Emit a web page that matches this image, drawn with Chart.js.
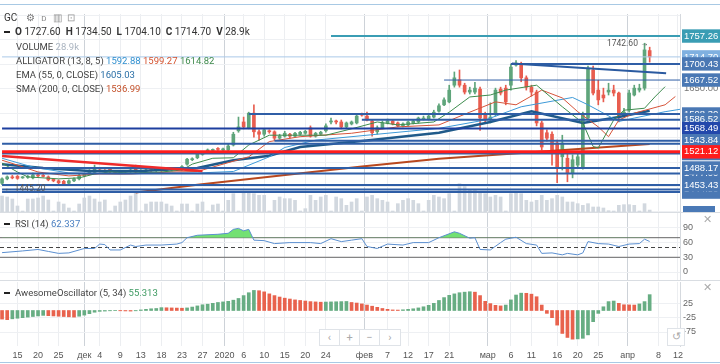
<!doctype html>
<html lang="ru">
<head>
<meta charset="utf-8">
<meta name="viewport" content="width=device-width, initial-scale=1">
<title>GC daily</title>
<style>
  * { margin: 0; padding: 0; box-sizing: border-box; }
  body { width: 720px; height: 364px; overflow: hidden; background: #fff; font-family: Roboto, "Noto Sans", sans-serif; }
  .stage { position: relative; width: 720px; height: 364px; }
  .stage canvas { position: absolute; left: 0; }
  #mainChart { top: 14px; }
  #rsiChart { top: 213px; }
  #aoChart { top: 282px; }
  .rule { position: absolute; left: 0; width: 720px; height: 1px; }
  .lbl { position: absolute; white-space: nowrap; font-size: 10px; line-height: 12px; color: #333; z-index: 5; }
  .ind { font-size: 9.5px; color: #444; }
  .lbl b { font-weight: 700; }
  .dash { display: inline-block; width: 6px; height: 2px; background: #222; vertical-align: middle; margin-right: 5px; }
  .mini { position: absolute; font-size: 8.5px; color: #555; white-space: nowrap; z-index: 5; }
  .close { position: absolute; left: 703px; font-size: 11px; color: #aaa; z-index: 5; }
  .nav { position: absolute; left: 319px; top: 329px; height: 17px; display: flex; border: 1px solid #dfe3e8; background: #fff; z-index: 5; }
  .nav span { width: 20px; text-align: center; font-size: 11px; line-height: 15px; color: #aaa; border-right: 1px solid #dfe3e8; }
  .nav span:last-child { border-right: none; }
  .reset { position: absolute; left: 667px; top: 328px; width: 18px; height: 18px; border: 1px solid #dfe3e8; background: #fff; font-size: 11px; line-height: 16px; text-align: center; color: #aaa; z-index: 5; }
</style>
</head>
<body>
<div class="stage">
  <div class="rule" style="top:4px;background:#a8c9e4"></div>
  <canvas id="mainChart" width="720" height="198"></canvas>
  <div class="rule" style="top:212px;background:#d9dde2"></div>
  <canvas id="rsiChart" width="720" height="67"></canvas>
  <div class="rule" style="top:280px;background:#d9dde2"></div>
  <canvas id="aoChart" width="720" height="82"></canvas>
  <div class="rule" style="top:362px;background:#a8c9e4"></div>

  <div class="lbl" style="left:4px;top:12px">GC <span style="color:#777;margin-left:6px">⚙</span> <span style="color:#888;font-size:8px;margin-left:4px">D</span> <span style="color:#999;margin-left:4px">▥</span> <span style="color:#999;margin-left:2px">⊡</span></div>
  <div class="lbl" style="left:4px;top:26px"><span class="dash"></span><b>O</b> 1727.60 &nbsp;<b>H</b> 1734.50 &nbsp;<b>L</b> 1704.10 &nbsp;<b>C</b> 1714.70 &nbsp;<b>V</b> 28.9k</div>
  <div class="lbl ind" style="left:16px;top:41px">VOLUME <span style="color:#aab4c0">28.9k</span></div>
  <div class="lbl ind" style="left:16px;top:55px">ALLIGATOR (13, 8, 5) <span style="color:#2f8fcf">1592.88</span> <span style="color:#d4532f">1599.27</span> <span style="color:#3e8a4c">1614.82</span></div>
  <div class="lbl ind" style="left:16px;top:69px">EMA (55, 0, CLOSE) <span style="color:#2a6fa6">1605.03</span></div>
  <div class="lbl ind" style="left:16px;top:83px">SMA (200, 0, CLOSE) <span style="color:#c4512a">1536.99</span></div>

  <div class="mini" style="left:607px;top:38px">1742.60 →</div>
  <div class="mini" style="left:4px;top:183px">← 1445.20</div>
  <div style="position:absolute;left:683px;top:206px;width:32px;height:6px;background:#4a79b6;z-index:5"></div>

  <div class="lbl ind" style="left:4px;top:218px"><span class="dash"></span>RSI (14) <span style="color:#4a7fc0">62.337</span></div>
  <div class="close" style="top:213px">✕</div>
  <div class="lbl ind" style="left:4px;top:287px"><span class="dash"></span>AwesomeOscillator (5, 34) <span style="color:#3e9a62">55.313</span></div>
  <div class="close" style="top:281px">✕</div>
  <div class="nav"><span>‹</span><span>+</span><span>−</span><span>›</span></div>
  <div class="reset">↺</div>
</div>

<script src="https://cdn.jsdelivr.net/npm/chart.js"></script>
<script>
// ---- data (bar index 0 = mid Nov 2019, 126 = 7 Apr 2020) ----
const opens = [1457,1466,1470,1471,1468,1469,1468,1474,1473,1470, 1465,1462,1461,1457,1462,1466,1472,1478,1479,1484,
  1483,1486,1482,1479,1480,1481,1490,1480,1482,1485, 1483,1485,1483,1484,1485,1485,1496,1505,1509,1516,
  1523,1524,1528,1525,1525,1535,1564,1582,1570,1600, 1562,1557,1564,1562,1549,1553,1557,1553,1557,1559,
  1570,1553,1557,1564,1582,1584,1582,1572,1578,1580, 1598,1594,1584,1562,1570,1580,1584,1580,1574,1576,
  1580,1582,1588,1588,1592,1604,1617,1623,1657,1668, 1657,1643,1643,1649,1596,1588,1598,1649,1651,1657,
  1698,1700,1672,1653,1643,1580,1560,1557,1539,1511, 1508,1478,1494,1490,1590,1688,1647,1637,1643,1647,
  1641,1596,1606,1637,1647,1651,1727.6];
const highs = [1468,1472,1473,1473,1471,1473,1478,1476,1475,1472, 1467,1464,1463,1464,1468,1475,1477,1485,1494,1486,
  1485,1489,1483,1481,1483,1486,1494,1485,1486,1487, 1487,1487,1487,1488,1488,1493,1508,1509,1521,1519,
  1527,1527,1530,1529,1537,1561,1592,1592,1602,1617, 1566,1569,1566,1564,1557,1563,1559,1561,1563,1565,
  1574,1561,1563,1578,1590,1586,1586,1582,1584,1598, 1600,1602,1586,1574,1584,1588,1586,1582,1580,1584,
  1586,1592,1594,1596,1606,1619,1631,1657,1684,1688, 1661,1653,1663,1653,1602,1621,1651,1653,1657,1700,
  1707,1704,1676,1657,1647,1584,1566,1562,1545,1555, 1521,1515,1519,1602,1696,1696,1667,1651,1661,1657,
  1643,1610,1647,1657,1659,1742.6,1734.5];
const lows = [1454,1464,1466,1465,1467,1467,1466,1470,1470,1462, 1460,1456,1454,1455,1460,1464,1470,1476,1477,1480,
  1479,1478,1477,1477,1478,1479,1478,1478,1480,1481, 1481,1481,1481,1482,1483,1483,1494,1503,1507,1514,
  1521,1522,1524,1523,1521,1533,1561,1568,1568,1551, 1545,1553,1559,1545,1547,1551,1549,1551,1555,1557,
  1551,1551,1555,1561,1578,1578,1568,1570,1576,1578, 1594,1584,1553,1557,1568,1578,1576,1572,1572,1574,
  1578,1580,1586,1586,1590,1602,1615,1621,1653,1653, 1639,1639,1639,1565,1582,1580,1594,1637,1617,1647,
  1696,1664,1647,1635,1574,1525,1543,1494,1458,1484, 1460,1468,1488,1486,1586,1637,1617,1623,1637,1635,
  1582,1592,1602,1635,1643,1647,1704.1];
const closes = [1466,1470,1468,1467,1470,1471,1474,1472,1471,1464, 1462,1458,1456,1462,1466,1473,1475,1483,1488,1482,
  1481,1482,1479,1481,1482,1484,1480,1483,1484,1483, 1485,1483,1485,1486,1486,1491,1506,1507,1519,1517,
  1525,1525,1526,1527,1533,1557,1572,1572,1600,1562, 1557,1566,1562,1549,1553,1559,1553,1559,1561,1563,
  1553,1559,1561,1574,1584,1582,1572,1580,1582,1594, 1596,1586,1560,1570,1580,1584,1578,1574,1578,1582,
  1584,1590,1590,1594,1602,1615,1627,1647,1672,1657, 1643,1647,1651,1590,1586,1592,1647,1641,1623,1694,
  1702,1672,1653,1643,1580,1531,1549,1519,1490,1539, 1478,1505,1511,1596,1692,1641,1627,1631,1647,1641,
  1592,1602,1641,1651,1651,1729,1714.7];
// volume, thousands
const volumes = [240,225,195,90,15,195,195,210,240,180, 15,150,120,60,15,120,210,240,195,150,
  180,15,90,150,180,240,285,15,120,150, 150,150,120,90,15,120,120,15,120,150,
  15,105,120,15,175,275,15,300,300,275, 250,250,15,175,225,200,200,175,15,50,
  250,175,225,250,15,225,200,100,150,200, 15,225,250,200,175,150,15,125,175,200,
  175,125,15,175,250,225,200,275,15,425, 400,325,325,300,275,225,250,225,15,275,
  300,275,175,150,175,250,175,200,250,225, 150,150,125,100,125,75,75,60,20,15,
  100,110,110,100,15,125,28.9];

// indicators: [bar, value]
const lipsLine  = [[0,1498],[3,1480],[5,1470],[11,1466],[15,1468],[18,1476],[21,1480],[25,1478],[31,1480],[35,1484],[37,1496],[41,1508],[45,1509],[48,1535],[52,1555],[55,1555],[63,1555],[68,1568],[73,1582],[77,1576],[84,1582],[87,1602],[91,1633],[95,1637],[98,1647],[104,1657],[109,1613],[113,1580],[115,1532],[116,1529],[119,1586],[121,1606],[125,1610],[127,1633],[129,1654]];
const teethLine = [[0,1504],[3,1494],[7,1480],[13,1472],[19,1476],[25,1476],[33,1480],[38,1481],[48,1511],[52,1542],[58,1552],[68,1559],[77,1572],[85,1576],[91,1602],[96,1623],[100,1617],[105,1647],[109,1631],[112,1603],[116,1572],[118,1552],[120,1586],[123,1600],[129,1617],[131,1634]];
const jawLine   = [[0,1508],[6,1490],[13,1478],[23,1476],[33,1478],[38,1478],[45,1481],[52,1511],[55,1530],[61,1545],[71,1555],[85,1569],[94,1586],[101,1613],[111,1632],[114,1617],[120,1583],[123,1590],[129,1603],[132,1608]];
const emaLine   = [[0,1496],[8,1488],[17,1482],[27,1482],[38,1488],[45,1504],[52,1513],[58,1531],[70,1543],[85,1560],[95,1582],[103,1604],[113,1580],[120,1592],[126,1605]];
const smaLine   = [[26,1438],[38,1454],[70,1491],[85,1507],[126,1537]];

const rsiLine = [[0,39.5],[4,43],[7,46],[9,42],[11,38],[13,39],[15,45],[16,48],[18,48],[19,57],[20,56],[21,45],[23,45],[25,55],[26,52],[28,55],[31,55],[34,57],[35,60],[36,70],[38,75],[42,77],[44,79],[45,87],[46,89],[47,84],[48,87],[49,65],[51,64],[53,58],[56,60],[60,60],[62,58],[64,68],[66,62],[68,65],[70,68],[71,52],[73,48],[75,57],[78,55],[80,60],[83,60],[85,70],[88,82],[89,79],[91,69],[92,70],[93,46],[95,45],[97,60],[98,67],[100,71],[102,58],[104,55],[105,38],[107,39],[109,35],[110,38],[112,35],[113,39],[114,62],[116,58],[118,57],[120,52],[122,57],[124,58],[125,67],[126,62.3]];
const rsiBands = [70, 50, 30];

const aoValues = [-30,-32,-29,-27,-25,-23,-21,-19,-17,-18, -19,-20,-21,-22,-23,-20,-16,-11,-6,-3,
  -2,-1,-0.5,-1,-1.5,-2,-1,2,4,6, 7,10,9.5,9,8.5,8,9,12,16,20,
  22,25,28,30,32,36,42,52,62,70, 69,65,58,52,47,43,40,37,35,33,
  31,30,29,29.5,30,30.5,31,31.5,28,26, 23,19,15,11,7,4,2,1.5,2.5,4,
  6,9,13,18,25,35,45,53,58,62, 64,65.5,64,52,32,24,18,16,19,37,
  54,60.5,60,57,48,19,-10,-25,-51,-80, -94,-100,-99,-97,-85,-39,-10,13,31,33,
  25,20,19.5,19,23,31,55.3];

// drawn levels (price, first bar) and trend lines
const levelPrices = [1757.26, 1714.70, 1700.43, 1667.52, 1598.30, 1586.52, 1568.49, 1543.84, 1537.50, 1521.12, 1517.50, 1488.17, 1477.00, 1453.43, 1444.50, 1439.00];
const levelFrom   = [64, 0, 99, 86, 48, 70, 0, 53, 0, 0, 0, 0, 0, 0, 0, 0];
const trendRed  = [[0, 1512.6], [39, 1482.0]];
const trendBlue = [[99.2, 1701.0], [129.2, 1681.5]];

// price axis labels (draw order matters: later ones sit on top)
const priceLabels = [1714.70, 1757.26, 1650.00, 1667.52, 1700.43, 1598.30, 1586.52, 1568.49, 1537.50, 1543.84, 1517.50, 1521.12, 1477.00, 1488.17, 1439.00, 1444.50, 1453.43];
const gridPrices = [1400, 1450, 1500, 1550, 1600, 1650, 1700, 1750, 1800];

// date axis
const tickPos  = [3, 7, 11, 16, 19, 23, 27, 31, 35, 39, 43.3, 47, 51, 55, 59, 63, 70.5, 75, 79, 83, 87, 94.5, 99, 103, 108, 112, 116, 121.7, 127.7, 131.5];
const tickText = ['15','20','25','дек','4','9','13','18','23','27','2020','6','10','15','20','24','фев','7','12','17','21','мар','6','11','16','20','25','апр','8','12'];
const monthTicks = [16, 43.3, 70.5, 94.5, 121.7];

// ---- chart setup ----
const X_MIN = -0.4, X_MAX = 131.9;
const UP = '#5fa57b', DOWN = '#e85d4f';
const pts = arr => arr.map(([x, y]) => ({ x, y }));

function xAxis(showLabels) {
  return {
    type: 'linear', min: X_MIN, max: X_MAX, offset: false,
    afterBuildTicks: s => { s.ticks = tickPos.map(v => ({ value: v })); },
    afterFit: s => { s.paddingLeft = 0; s.paddingRight = 0; if (showLabels) s.height = 18; },
    grid: { offset: false, drawTicks: false, color: c => monthTicks.includes(c.tick && c.tick.value) ? '#cdd2d8' : '#eceef1' },
    border: { display: false },
    ticks: { display: showLabels, autoSkip: false, maxRotation: 0, padding: 4, color: '#555',
      font: { size: 9 }, callback: (v, i) => tickText[i] }
  };
}
function rightAxis(min, max, ticks, extra) {
  return Object.assign({
    position: 'right', min, max,
    afterBuildTicks: s => { s.ticks = ticks.map(v => ({ value: v })); },
    afterFit: s => { s.width = 40; s.paddingTop = 0; s.paddingBottom = 0; },
    grid: { color: '#eef0f3', drawTicks: false },
    border: { color: '#d5d9de' },
    ticks: { autoSkip: false, padding: 3, color: '#666', font: { size: 9 } }
  }, extra || {});
}
const baseOpts = {
  responsive: false, animation: false, events: [],
  layout: { padding: 0, autoPadding: false },
  plugins: { legend: { display: false }, tooltip: { enabled: false } }
};
function line(data, color, width, order, extra) {
  return Object.assign({ type: 'line', data, borderColor: color, borderWidth: width,
    pointRadius: 0, fill: false, tension: 0, order, yAxisID: 'y' }, extra || {});
}

const candleColor = closes.map((c, i) => c >= opens[i] ? UP : DOWN);

function levelColor(p) {
  if (p === 1757.26) return '#3a9db4';
  if (p === 1714.70) return '#aac9e8';
  if (p === 1521.12) return '#ff1c1c';
  if (p === 1568.49) return '#1d3f9f';
  return '#2f5ea6';
}
function levelWidth(p) {
  if (p === 1521.12) return 3;
  if (p === 1714.70 || p === 1667.52) return 1;
  return 2;
}
function labelBox(p) {
  if (p === 1650.00) return 'rgba(0,0,0,0)';
  if (p === 1757.26) return '#3a9db4';
  if (p === 1714.70) return '#7fb0e0';
  if (p === 1521.12) return '#ff1c1c';
  if (p === 1568.49) return '#2348ab';
  return '#4a78b4';
}

const levelSets = levelPrices.map((p, k) => line(
  [{ x: levelFrom[k], y: p }, { x: X_MAX, y: p }], levelColor(p), levelWidth(p), 1));

new Chart(document.getElementById('mainChart'), {
  type: 'bar',
  data: {
    datasets: [
      { type: 'bar', yAxisID: 'yVol', data: volumes.map((v, i) => ({ x: i, y: v })),
        backgroundColor: '#d2d8df', barThickness: 3, grouped: false, order: 20 },
      { type: 'bar', yAxisID: 'y', data: lows.map((l, i) => ({ x: i, y: [l, highs[i]] })),
        backgroundColor: candleColor, barThickness: 1, grouped: false, order: 15 },
      { type: 'bar', yAxisID: 'y', data: opens.map((o, i) => ({ x: i, y: [o, closes[i]] })),
        backgroundColor: candleColor, barThickness: 3, minBarLength: 1, grouped: false, order: 14 },
      line(pts(smaLine), '#b8481f', 2, 10),
      line(pts(emaLine), '#1f5a8a', 2.5, 9),
      line(pts(jawLine), '#3d9ad8', 1, 8),
      line(pts(teethLine), '#d6543a', 1, 7),
      line(pts(lipsLine), '#3e8c4e', 1, 6),
      ...levelSets,
      line(pts(trendRed), '#ef2a2a', 2.5, 0),
      line(pts(trendBlue), '#2a5aa0', 2, 0)
    ]
  },
  options: Object.assign({}, baseOpts, {
    scales: {
      x: xAxis(false),
      y: rightAxis(1398.4, 1802.2, priceLabels, {
        grid: { display: false, drawTicks: false },
        ticks: {
          autoSkip: false, padding: 4, color: c => c.tick && c.tick.value === 1650 ? '#777' : '#fff',
          font: { size: 9.5, weight: '500' },
          showLabelBackdrop: true, backdropColor: c => labelBox(c.tick && c.tick.value),
          backdropPadding: { left: 2, right: 2, top: 1, bottom: 1 },
          callback: v => v.toFixed(2)
        }
      }),
      yGrid: {
        position: 'left', min: 1398.4, max: 1802.2,
        afterBuildTicks: s => { s.ticks = gridPrices.map(v => ({ value: v })); },
        afterFit: s => { s.width = 0; },
        grid: { color: '#eef0f3', drawTicks: false }, border: { display: false },
        ticks: { display: false }
      },
      yVol: { display: false, min: 0, max: 2970 }
    }
  })
});

new Chart(document.getElementById('rsiChart'), {
  type: 'line',
  data: {
    datasets: [
      { data: pts(rsiLine), borderColor: '#5b8fd0', borderWidth: 1, pointRadius: 0, tension: 0, order: 1,
        fill: { target: { value: 70 }, above: 'rgba(100,222,100,0.9)', below: 'rgba(0,0,0,0)' } },
      ...rsiBands.map(b => ({ data: [{ x: X_MIN, y: b }, { x: X_MAX, y: b }], borderColor: b === 50 ? '#444' : '#666',
        borderWidth: 1, borderDash: b === 50 ? [4, 3] : [], pointRadius: 0, order: 2 }))
    ]
  },
  options: Object.assign({}, baseOpts, {
    scales: { x: xAxis(false), y: rightAxis(-16.3, 120.4, [0, 30, 60, 90]) }
  })
});

const aoColors = aoValues.map((v, i) => i > 0 && v >= aoValues[i - 1] ? '#67ad83' : '#e8624d');
new Chart(document.getElementById('aoChart'), {
  type: 'bar',
  data: {
    datasets: [{ data: aoValues.map((v, i) => ({ x: i, y: v })), backgroundColor: aoColors,
      barThickness: 3, grouped: false }]
  },
  options: Object.assign({}, baseOpts, {
    scales: { x: xAxis(true), y: rightAxis(-123.8, 99.4, [-75, -25, 25]) }
  })
});
</script>
</body>
</html>
